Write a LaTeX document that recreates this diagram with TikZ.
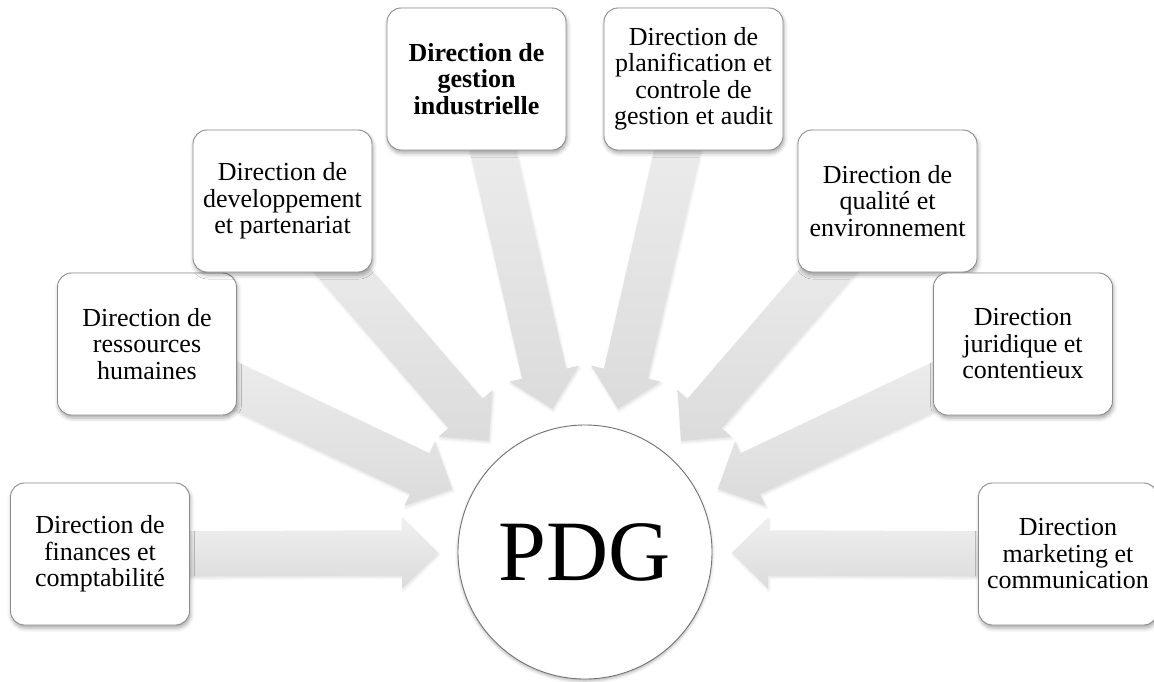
\documentclass[tikz,border=0pt]{standalone}
\usepackage{fontspec}
\setmainfont{Liberation Serif}
\usetikzlibrary{calc,backgrounds,shadows.blur}

% Block arrow from a department box towards the central circle
\newcommand\feedarrow[1]{%
  \path[feed] let \p1=($(#1)-(pdg)$), \n1={atan2(\y1,\x1)} in
    ($(pdg)+(\n1:147pt)$)
    -- ($(pdg)+(\n1:183pt)+(\n1+90:35.5pt)$)
    -- ($(pdg)+(\n1:183pt)+(\n1+90:22.5pt)$)
    -- ($(#1)+(\n1+90:22.5pt)$)
    -- ($(#1)+(\n1-90:22.5pt)$)
    -- ($(pdg)+(\n1:183pt)+(\n1-90:22.5pt)$)
    -- ($(pdg)+(\n1:183pt)+(\n1-90:35.5pt)$)
    -- cycle;}

\begin{document}
\begin{tikzpicture}[x=1pt,y=-1pt,
  dirbox/.style={draw=black!45, line width=0.9pt, fill=white,
    rounded corners=14pt, minimum width=179pt, minimum height=142pt,
    inner sep=0pt, align=center, font=\fontsize{26}{26.5}\selectfont,
    blur shadow={shadow xshift=1pt, shadow yshift=-3pt,
      shadow blur radius=4pt, shadow opacity=35}},
  hub/.style={circle, draw=black!55, line width=0.9pt, fill=white,
    minimum size=254pt, inner sep=0pt, font=\fontsize{86}{86}\selectfont,
    blur shadow={shadow xshift=0pt, shadow yshift=-2pt,
      shadow blur radius=3pt, shadow opacity=30}},
  feed/.style={top color=black!6, bottom color=black!14, draw=none,
    blur shadow={shadow xshift=1pt, shadow yshift=-2pt,
      shadow blur radius=2.5pt, shadow opacity=12}}]

\useasboundingbox (0,0) rectangle (1154,681);

\node[hub] (pdg) at (585,552) {PDG};

\node[dirbox] (fin) at (100,554) {Direction de\\finances et\\comptabilité};
\node[dirbox] (rh)  at (147,344) {Direction de\\ressources\\humaines};
\node[dirbox] (dev) at (282.5,201) {Direction de\\developpement\\et partenariat};
\node[dirbox, font=\fontsize{26}{26.5}\selectfont\bfseries] (ind) at (476.5,79)
  {Direction de\\gestion\\industrielle};
\node[dirbox] (pla) at (693.5,79)
  {Direction de\\planification et\\controle de\\gestion et audit};
\node[dirbox] (qua) at (887.5,201) {Direction de\\qualité et\\environnement};
\node[dirbox] (jur) at (1023,344) {Direction\\juridique et\\contentieux};
\node[dirbox] (mkt) at (1068,554) {Direction\\marketing et\\communication};

\begin{pgfonlayer}{background}
  \feedarrow{fin}
  \feedarrow{rh}
  \feedarrow{dev}
  \feedarrow{ind}
  \feedarrow{pla}
  \feedarrow{qua}
  \feedarrow{jur}
  \feedarrow{mkt}
\end{pgfonlayer}
\end{tikzpicture}
\end{document}
